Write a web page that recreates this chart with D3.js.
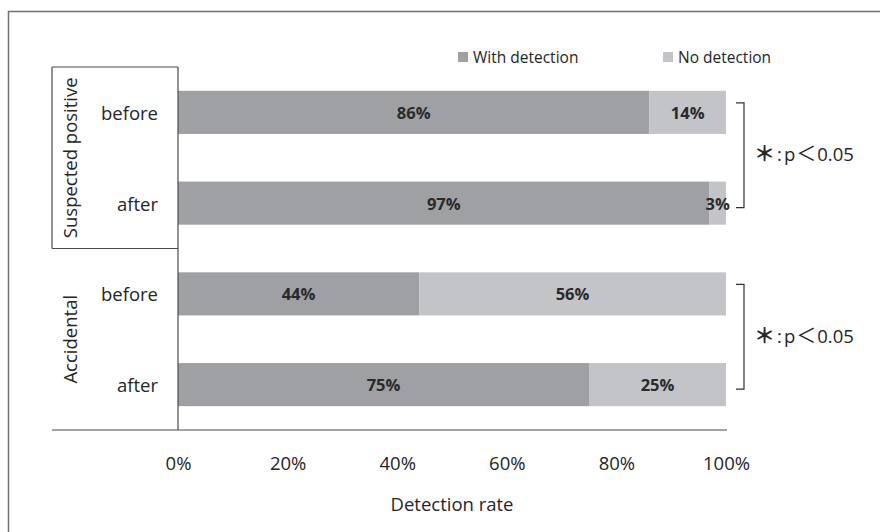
<!DOCTYPE html>
<html>
<head>
<meta charset="utf-8">
<script src="https://cdn.jsdelivr.net/npm/d3@7"></script>
<style>
  html, body { margin: 0; padding: 0; background: #fff; }
  svg { display: block; }
  text { font-family: "Open Sans", Lato, "Liberation Sans", sans-serif; fill: #262626; }
</style>
</head>
<body>
<svg id="chart" width="880" height="532"></svg>
<script>
// Rows (top to bottom) and their group
const rows = ["Suspected positive|before", "Suspected positive|after", "Accidental|before", "Accidental|after"];
const rowLabels = ["before", "after", "before", "after"];
const groups = ["Suspected positive", "Accidental"];
const withDetection = [86, 97, 44, 75];
const noDetection = [14, 3, 56, 25];
const seriesNames = ["With detection", "No detection"];
const seriesColors = ["#9fa0a3", "#c3c4c7"];
const tickValues = [0, 20, 40, 60, 80, 100];
// Significance note, split into pieces so each glyph can be sized
const significanceParts = ["＊", ":", "p", "＜", "0.05"];

const svg = d3.select("#chart");

// Outer frame (runs past the right and bottom edges)
svg.append("rect")
  .attr("x", 8.5).attr("y", 11.5)
  .attr("width", 900).attr("height", 560)
  .attr("fill", "none").attr("stroke", "#707070").attr("stroke-width", 1.5);

const plotLeft = 178, plotRight = 726, plotTop = 67, plotBottom = 430;

const x = d3.scaleLinear().domain([0, 100]).range([plotLeft, plotRight]);
const y = d3.scaleBand().domain(rows).range([plotTop, plotBottom]).paddingInner(0.525).paddingOuter(0.2625);

// Stacked data
const stackData = rows.map((r, i) => ({ row: r, "With detection": withDetection[i], "No detection": noDetection[i] }));
const stacked = d3.stack().keys(seriesNames)(stackData);

const layers = svg.append("g").selectAll("g").data(stacked).join("g")
  .attr("fill", (d, i) => seriesColors[i]);

layers.selectAll("rect").data(d => d).join("rect")
  .attr("x", d => x(d[0]))
  .attr("y", d => y(d.data.row))
  .attr("width", d => x(d[1]) - x(d[0]))
  .attr("height", y.bandwidth());

// Value labels centred in each segment
layers.selectAll("text").data(d => d.map(v => ({ v, key: d.key }))).join("text")
  .attr("x", d => (x(d.v[0]) + x(d.v[1])) / 2)
  .attr("y", d => y(d.v.data.row) + y.bandwidth() / 2)
  .attr("text-anchor", "middle")
  .attr("dominant-baseline", "central")
  .attr("font-size", 16.5)
  .attr("font-weight", "bold")
  .style("fill", "#2a2a2a")
  .text(d => `${d.v.data[d.key]}%`);

// Category box lines
const lines = svg.append("g").attr("stroke", "#4a4a4a").attr("stroke-width", 1.2).attr("fill", "none");
const groupMid = y(rows[2]) - (y.step() - y.bandwidth()) / 2; // boundary between groups
lines.append("line").attr("x1", 52).attr("x2", plotLeft).attr("y1", plotTop).attr("y2", plotTop);
lines.append("line").attr("x1", 52).attr("x2", 52).attr("y1", plotTop).attr("y2", groupMid);
lines.append("line").attr("x1", 52).attr("x2", plotLeft).attr("y1", groupMid).attr("y2", groupMid);
lines.append("line").attr("x1", plotLeft).attr("x2", plotLeft).attr("y1", plotTop).attr("y2", plotBottom);
lines.append("line").attr("x1", 52).attr("x2", plotRight + 1).attr("y1", plotBottom).attr("y2", plotBottom);

// Row labels
svg.append("g").selectAll("text").data(rows).join("text")
  .attr("x", 158)
  .attr("y", d => y(d) + y.bandwidth() / 2)
  .attr("text-anchor", "end")
  .attr("dominant-baseline", "central")
  .attr("font-size", 18.5)
  .text((d, i) => rowLabels[i]);

// Group labels (rotated)
const groupCenters = [(plotTop + groupMid) / 2, (groupMid + plotBottom) / 2];
svg.append("g").selectAll("text").data(groups).join("text")
  .attr("transform", (d, i) => `translate(69,${groupCenters[i]}) rotate(-90)`)
  .attr("text-anchor", "middle")
  .attr("dominant-baseline", "central")
  .attr("font-size", 18.5)
  .text(d => d);

// X axis tick labels
const xAxis = d3.axisBottom(x).tickValues(tickValues).tickFormat(d => d + "%").tickSize(0).tickPadding(0);
const axisG = svg.append("g").attr("transform", `translate(0,${plotBottom + 30})`).call(xAxis);
axisG.select(".domain").remove();
axisG.selectAll("text")
  .attr("font-size", 18.5)
  .attr("font-family", "'Open Sans', Lato, sans-serif")
  .attr("dy", "0.55em")
  .style("fill", "#262626");

// Axis title
svg.append("text")
  .attr("x", (plotLeft + plotRight) / 2)
  .attr("y", 503)
  .attr("text-anchor", "middle")
  .attr("dominant-baseline", "central")
  .attr("font-size", 18.5)
  .text("Detection rate");

// Legend
const legendX = [458, 663];
const legend = svg.append("g").selectAll("g").data(seriesNames).join("g")
  .attr("transform", (d, i) => `translate(${legendX[i]},52)`);
legend.append("rect").attr("width", 10).attr("height", 10).attr("fill", (d, i) => seriesColors[i]);
legend.append("text")
  .attr("x", 15).attr("y", 5)
  .attr("dominant-baseline", "central")
  .attr("font-size", 15.5)
  .text(d => d);

// Significance brackets with notes
const pairs = [[rows[0], rows[1]], [rows[2], rows[3]]];
const partSizes = [21, 18.5, 18.5, 20, 18.5];
const partWeights = ["bold", "normal", "normal", "normal", "normal"];
const partDx = [0, 2, 2, 1, 1];
const partDy = [0, 0, 0, 0, 0];
const partFonts = ["'Noto Sans CJK JP', sans-serif", "'Open Sans', sans-serif", "'Open Sans', sans-serif",
                   "'Noto Sans CJK JP', sans-serif", "'Open Sans', sans-serif"];
const br = svg.append("g");
pairs.forEach(p => {
  const y1 = y(p[0]) + 12, y2 = y(p[1]) + y.bandwidth() - 17;
  br.append("path")
    .attr("d", `M736,${y1}H744V${y2}H736`)
    .attr("fill", "none").attr("stroke", "#333").attr("stroke-width", 1.2);
  const t = br.append("text")
    .attr("x", 754)
    .attr("y", (y1 + y2) / 2 + 6)
    .style("fill", "#262626");
  t.selectAll("tspan").data(significanceParts).join("tspan")
    .attr("font-size", (d, i) => partSizes[i])
    .attr("font-family", (d, i) => partFonts[i])
    .attr("font-weight", (d, i) => partWeights[i])
    .attr("dx", (d, i) => partDx[i])
    .attr("dy", (d, i) => partDy[i])
    .text(d => d);
});
</script>
</body>
</html>
